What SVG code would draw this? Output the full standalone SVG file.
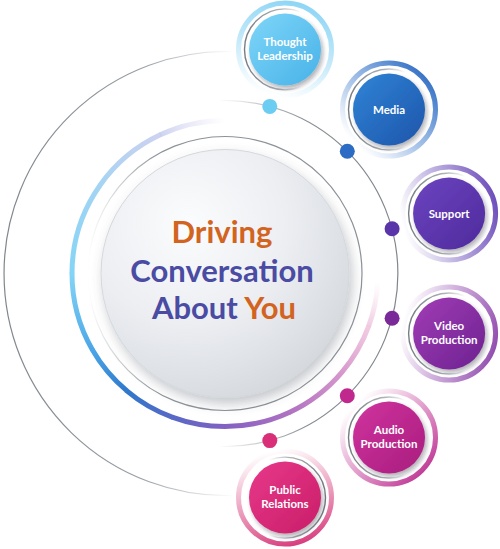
<svg xmlns="http://www.w3.org/2000/svg" width="500" height="549" viewBox="0 0 500 549">
<style>
.lbl{font-family:Lato,"Open Sans","Liberation Sans",sans-serif;font-weight:700;font-size:11.5px;fill:#ffffff;text-anchor:middle}
.big{font-family:Lato,"Open Sans","Liberation Sans",sans-serif;font-weight:700;font-size:31px;text-anchor:middle}
.ring{fill:none;stroke-width:5}
.gray{fill:none;stroke-width:1.4}
.seg{fill:none;stroke-width:5}
.thin{fill:none;stroke-width:1.2}
</style>
<defs>
<filter id="sh" x="-30%" y="-30%" width="170%" height="170%"><feDropShadow dx="2" dy="3" stdDeviation="2" flood-color="#1a1a2e" flood-opacity="0.35"/></filter>
<filter id="dsh" x="-20%" y="-20%" width="150%" height="150%"><feDropShadow dx="3" dy="6" stdDeviation="6" flood-color="#5a6470" flood-opacity="0.35"/></filter>
<radialGradient id="disc" cx="35%" cy="30%" r="80%"><stop offset="0" stop-color="#fbfcfd"/><stop offset="0.5" stop-color="#eceef2"/><stop offset="1" stop-color="#d2d6db"/></radialGradient>
<linearGradient id="outerArc" gradientUnits="userSpaceOnUse" x1="3" y1="0" x2="233" y2="0"><stop offset="0" stop-color="#7f868c" stop-opacity="1"/><stop offset="0.6" stop-color="#7f868c" stop-opacity="0.8"/><stop offset="1" stop-color="#7f868c" stop-opacity="0"/></linearGradient>
<linearGradient id="dotArc" gradientUnits="userSpaceOnUse" x1="398" y1="0" x2="219" y2="0"><stop offset="0" stop-color="#7f868c" stop-opacity="1"/><stop offset="0.5" stop-color="#7f868c" stop-opacity="0.95"/><stop offset="1" stop-color="#7f868c" stop-opacity="0"/></linearGradient>
<linearGradient id="discRing" gradientUnits="userSpaceOnUse" x1="88" y1="0" x2="160" y2="0"><stop offset="0" stop-color="#7f868c" stop-opacity="0"/><stop offset="1" stop-color="#7f868c" stop-opacity="0.9"/></linearGradient>
<linearGradient id="gL" x1="0" y1="0" x2="1" y2="0"><stop offset="0" stop-color="#6e757b" stop-opacity="0.95"/><stop offset="0.45" stop-color="#6e757b" stop-opacity="0.55"/><stop offset="0.7" stop-color="#6e757b" stop-opacity="0"/></linearGradient>
<linearGradient id="gR" x1="1" y1="0" x2="0" y2="0"><stop offset="0" stop-color="#6e757b" stop-opacity="0.95"/><stop offset="0.45" stop-color="#6e757b" stop-opacity="0.55"/><stop offset="0.7" stop-color="#6e757b" stop-opacity="0"/></linearGradient>
<linearGradient id="s0" gradientUnits="userSpaceOnUse" x1="225" y1="120.5" x2="160.3" y2="134.8"><stop offset="0" stop-color="#d8d0f0" stop-opacity="0"/><stop offset="1" stop-color="#bcc4ec" stop-opacity="0.75"/></linearGradient>
<linearGradient id="s1" gradientUnits="userSpaceOnUse" x1="160.3" y1="134.8" x2="99.7" y2="185.7"><stop offset="0" stop-color="#bcc4ec" stop-opacity="0.75"/><stop offset="1" stop-color="#a4d4f4"/></linearGradient>
<linearGradient id="s2" gradientUnits="userSpaceOnUse" x1="99.7" y1="185.7" x2="72" y2="273.5"><stop offset="0" stop-color="#a4d4f4"/><stop offset="1" stop-color="#84d4f6"/></linearGradient>
<linearGradient id="s3" gradientUnits="userSpaceOnUse" x1="72" y1="273.5" x2="92.5" y2="350"><stop offset="0" stop-color="#84d4f6"/><stop offset="1" stop-color="#4aa6e6"/></linearGradient>
<linearGradient id="s4" gradientUnits="userSpaceOnUse" x1="92.5" y1="350" x2="126.7" y2="390.7"><stop offset="0" stop-color="#4aa6e6"/><stop offset="1" stop-color="#2f78cc"/></linearGradient>
<linearGradient id="s5" gradientUnits="userSpaceOnUse" x1="126.7" y1="390.7" x2="172.7" y2="417.3"><stop offset="0" stop-color="#2f78cc"/><stop offset="1" stop-color="#5868c6"/></linearGradient>
<linearGradient id="s6" gradientUnits="userSpaceOnUse" x1="172.7" y1="417.3" x2="225" y2="426.5"><stop offset="0" stop-color="#5868c6"/><stop offset="1" stop-color="#8262c2"/></linearGradient>
<linearGradient id="s7" gradientUnits="userSpaceOnUse" x1="225" y1="426.5" x2="289.7" y2="412.2"><stop offset="0" stop-color="#8262c2"/><stop offset="1" stop-color="#b072c2"/></linearGradient>
<linearGradient id="s8" gradientUnits="userSpaceOnUse" x1="289.7" y1="412.2" x2="342.2" y2="371.8"><stop offset="0" stop-color="#b072c2"/><stop offset="1" stop-color="#d898cc"/></linearGradient>
<linearGradient id="s9" gradientUnits="userSpaceOnUse" x1="342.2" y1="371.8" x2="368.8" y2="325.8"><stop offset="0" stop-color="#d898cc"/><stop offset="1" stop-color="#ecbcd8" stop-opacity="0.75"/></linearGradient>
<linearGradient id="s10" gradientUnits="userSpaceOnUse" x1="368.8" y1="325.8" x2="377.8" y2="281.5"><stop offset="0" stop-color="#ecbcd8" stop-opacity="0.75"/><stop offset="1" stop-color="#f4d4e6" stop-opacity="0"/></linearGradient>
<linearGradient id="r1" gradientUnits="userSpaceOnUse" x1="272.6" y1="95.8" x2="297.4" y2="3"><stop offset="0" stop-color="#8fd6f5" stop-opacity="0"/><stop offset="0.45" stop-color="#8fd6f5" stop-opacity="0.5"/><stop offset="1" stop-color="#8fd6f5"/></linearGradient>
<linearGradient id="r2" gradientUnits="userSpaceOnUse" x1="355.1" y1="143.4" x2="422.9" y2="75.6"><stop offset="0" stop-color="#4c86d2" stop-opacity="0"/><stop offset="0.45" stop-color="#4c86d2" stop-opacity="0.5"/><stop offset="1" stop-color="#3c76c8"/></linearGradient>
<linearGradient id="r3" gradientUnits="userSpaceOnUse" x1="402.7" y1="225.9" x2="495.5" y2="201.1"><stop offset="0" stop-color="#8066c4" stop-opacity="0"/><stop offset="0.45" stop-color="#8066c4" stop-opacity="0.5"/><stop offset="1" stop-color="#7050bc"/></linearGradient>
<linearGradient id="r4" gradientUnits="userSpaceOnUse" x1="402.7" y1="321.1" x2="495.5" y2="345.9"><stop offset="0" stop-color="#a264bc" stop-opacity="0"/><stop offset="0.45" stop-color="#a264bc" stop-opacity="0.5"/><stop offset="1" stop-color="#9450b0"/></linearGradient>
<linearGradient id="r5" gradientUnits="userSpaceOnUse" x1="355.1" y1="403.6" x2="422.9" y2="471.4"><stop offset="0" stop-color="#cc56a6" stop-opacity="0"/><stop offset="0.45" stop-color="#cc56a6" stop-opacity="0.5"/><stop offset="1" stop-color="#c2409a"/></linearGradient>
<linearGradient id="r6" gradientUnits="userSpaceOnUse" x1="272.6" y1="451.2" x2="297.4" y2="544"><stop offset="0" stop-color="#de5a8e" stop-opacity="0"/><stop offset="0.45" stop-color="#de5a8e" stop-opacity="0.5"/><stop offset="1" stop-color="#d84080"/></linearGradient>
<linearGradient id="f1" x1="0" y1="0" x2="1" y2="1"><stop offset="0" stop-color="#7fd6f8"/><stop offset="1" stop-color="#47b2e8"/></linearGradient>
<linearGradient id="f2" x1="0" y1="0" x2="1" y2="1"><stop offset="0" stop-color="#3184d6"/><stop offset="1" stop-color="#1c55ab"/></linearGradient>
<linearGradient id="f3" x1="0" y1="0" x2="1" y2="1"><stop offset="0" stop-color="#6c44c0"/><stop offset="1" stop-color="#4e2a9c"/></linearGradient>
<linearGradient id="f4" x1="0" y1="0" x2="1" y2="1"><stop offset="0" stop-color="#a23cb6"/><stop offset="1" stop-color="#6c2290"/></linearGradient>
<linearGradient id="f5" x1="0" y1="0" x2="1" y2="1"><stop offset="0" stop-color="#d0349e"/><stop offset="1" stop-color="#a81c7e"/></linearGradient>
<linearGradient id="f6" x1="0" y1="0" x2="1" y2="1"><stop offset="0" stop-color="#e8388a"/><stop offset="1" stop-color="#c81e68"/></linearGradient>
</defs>

<g id="connectors">
<path class="thin" stroke="url(#outerArc)" d="M232.7 51.6 A222 222 0 1 0 232.7 495.4"/>
<path class="thin" stroke="url(#dotArc)" d="M219 100.6 A173 173 0 1 1 219 446.4"/>
<circle cx="269.8" cy="106.4" r="7.5" fill="#6ccdf3"/>
<circle cx="347.3" cy="151.2" r="7.5" fill="#2c6cc4"/>
<circle cx="392.1" cy="228.7" r="7.5" fill="#5a35aa"/>
<circle cx="392.1" cy="318.3" r="7.5" fill="#7a2a98"/>
<circle cx="347.3" cy="395.8" r="7.5" fill="#c0288e"/>
<circle cx="269.8" cy="440.6" r="7.5" fill="#d82f78"/>
</g>

<g id="center">
<path class="seg" stroke="url(#s0)" d="M225 120.5 A153 153 0 0 0 160.3 134.8"/>
<path class="seg" stroke="url(#s1)" d="M160.8 134.6 A153 153 0 0 0 99.7 185.7"/>
<path class="seg" stroke="url(#s2)" d="M100.1 185.2 A153 153 0 0 0 72 273.5"/>
<path class="seg" stroke="url(#s3)" d="M72 272.8 A153 153 0 0 0 92.5 350"/>
<path class="seg" stroke="url(#s4)" d="M92.2 349.5 A153 153 0 0 0 126.7 390.7"/>
<path class="seg" stroke="url(#s5)" d="M126.2 390.3 A153 153 0 0 0 172.7 417.3"/>
<path class="seg" stroke="url(#s6)" d="M172.1 417.1 A153 153 0 0 0 225 426.5"/>
<path class="seg" stroke="url(#s7)" d="M224.4 426.5 A153 153 0 0 0 289.7 412.2"/>
<path class="seg" stroke="url(#s8)" d="M289.2 412.4 A153 153 0 0 0 342.2 371.8"/>
<path class="seg" stroke="url(#s9)" d="M341.8 372.3 A153 153 0 0 0 368.8 325.8"/>
<path class="seg" stroke="url(#s10)" d="M368.6 326.4 A153 153 0 0 0 377.8 281.5"/>
<circle cx="225" cy="273.5" r="137" class="thin" stroke="url(#discRing)"/>
<circle cx="225" cy="273.5" r="124" fill="url(#disc)" stroke="#d4d8dc" stroke-width="1" filter="url(#dsh)"/>
<text class="big" x="222" y="242.5" fill="#d2641f">Driving</text>
<text class="big" x="222" y="281.5" fill="#4a4ba3">Conversation</text>
<text class="big" x="224" y="318.5"><tspan fill="#4a4ba3">About </tspan><tspan fill="#d2641f">You</tspan></text>
</g>

<g id="thought-leadership">
<circle cx="285" cy="49.4" r="46.5" class="ring" stroke="url(#r1)"/>
<circle cx="285" cy="49.4" r="40.5" class="gray" stroke="url(#gL)"/>
<circle cx="285" cy="49.4" r="36" fill="url(#f1)" filter="url(#sh)"/>
<text class="lbl" x="285" y="46">Thought</text>
<text class="lbl" x="285" y="60">Leadership</text>
</g>

<g id="media">
<circle cx="389" cy="109.5" r="46.5" class="ring" stroke="url(#r2)"/>
<circle cx="389" cy="109.5" r="40.5" class="gray" stroke="url(#gL)"/>
<circle cx="389" cy="109.5" r="36" fill="url(#f2)" filter="url(#sh)"/>
<text class="lbl" x="389" y="113.5">Media</text>
</g>

<g id="support">
<circle cx="449.1" cy="213.5" r="46.5" class="ring" stroke="url(#r3)"/>
<circle cx="449.1" cy="213.5" r="40.5" class="gray" stroke="url(#gL)"/>
<circle cx="449.1" cy="213.5" r="36" fill="url(#f3)" filter="url(#sh)"/>
<text class="lbl" x="449.1" y="217.5">Support</text>
</g>

<g id="video-production">
<circle cx="449.1" cy="333.5" r="46.5" class="ring" stroke="url(#r4)"/>
<circle cx="449.1" cy="333.5" r="40.5" class="gray" stroke="url(#gL)"/>
<circle cx="449.1" cy="333.5" r="36" fill="url(#f4)" filter="url(#sh)"/>
<text class="lbl" x="449.1" y="330">Video</text>
<text class="lbl" x="449.1" y="344">Production</text>
</g>

<g id="audio-production">
<circle cx="389" cy="437.5" r="46.5" class="ring" stroke="url(#r5)"/>
<circle cx="389" cy="437.5" r="40.5" class="gray" stroke="url(#gL)"/>
<circle cx="389" cy="437.5" r="36" fill="url(#f5)" filter="url(#sh)"/>
<text class="lbl" x="389" y="434">Audio</text>
<text class="lbl" x="389" y="448">Production</text>
</g>

<g id="public-relations">
<circle cx="285" cy="497.6" r="46.5" class="ring" stroke="url(#r6)"/>
<circle cx="285" cy="497.6" r="40.5" class="gray" stroke="url(#gR)"/>
<circle cx="285" cy="497.6" r="36" fill="url(#f6)" filter="url(#sh)"/>
<text class="lbl" x="285" y="494">Public</text>
<text class="lbl" x="285" y="508">Relations</text>
</g>
</svg>
